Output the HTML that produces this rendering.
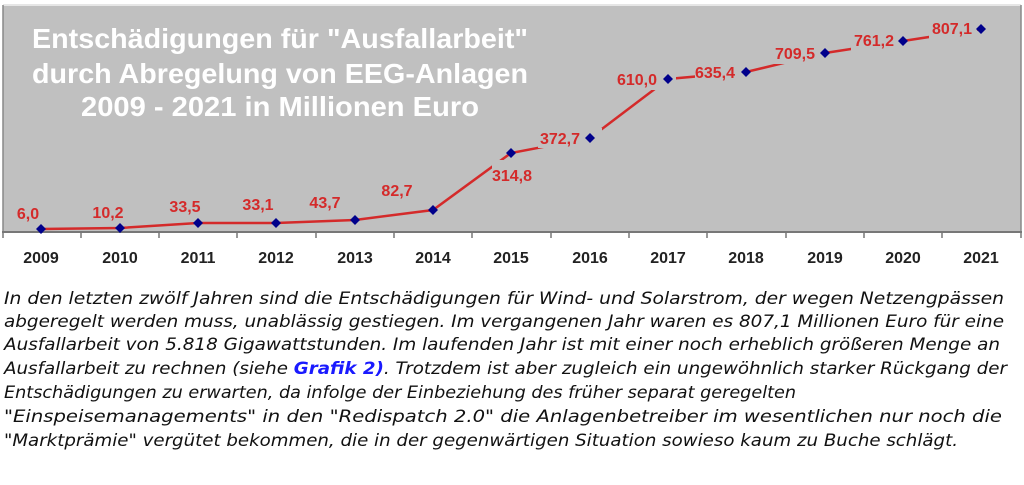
<!DOCTYPE html>
<html><head><meta charset="utf-8"><style>
html,body{margin:0;padding:0;background:#fff;}
svg{display:block;}
</style></head><body>
<svg width="1024" height="485" viewBox="0 0 1024 485" xmlns="http://www.w3.org/2000/svg">
<rect x="0" y="0" width="1024" height="485" fill="#fff"/>
<rect x="3" y="5" width="1018" height="227" fill="#c0c0c0"/>
<line x1="3" y1="5" x2="1021" y2="5" stroke="#e6e6e6" stroke-width="2"/>
<line x1="3" y1="5" x2="3" y2="232" stroke="#888" stroke-width="1.5"/>
<line x1="1021" y1="5" x2="1021" y2="232" stroke="#888" stroke-width="1.5"/>
<line x1="2" y1="232" x2="1022" y2="232" stroke="#777" stroke-width="2"/>
<g stroke="#777" stroke-width="1.5">
<line x1="3" y1="232" x2="3" y2="238"/><line x1="81" y1="232" x2="81" y2="238"/><line x1="159" y1="232" x2="159" y2="238"/><line x1="237" y1="232" x2="237" y2="238"/><line x1="316" y1="232" x2="316" y2="238"/><line x1="394" y1="232" x2="394" y2="238"/><line x1="472" y1="232" x2="472" y2="238"/><line x1="551" y1="232" x2="551" y2="238"/><line x1="629" y1="232" x2="629" y2="238"/><line x1="707" y1="232" x2="707" y2="238"/><line x1="786" y1="232" x2="786" y2="238"/><line x1="864" y1="232" x2="864" y2="238"/><line x1="942" y1="232" x2="942" y2="238"/><line x1="1021" y1="232" x2="1021" y2="238"/>
</g>
<g font-family="Liberation Sans, sans-serif" font-weight="bold" font-size="28" fill="#fff" text-anchor="middle">
<text x="280" y="48" textLength="496" lengthAdjust="spacingAndGlyphs">Entschädigungen für "Ausfallarbeit"</text>
<text x="280" y="83" textLength="496" lengthAdjust="spacingAndGlyphs">durch Abregelung von EEG-Anlagen</text>
<text x="280" y="116" textLength="398" lengthAdjust="spacingAndGlyphs">2009 - 2021 in Millionen Euro</text>
</g>
<polyline fill="none" stroke="#d42a2a" stroke-width="2.5" points="41,229 120,228 198,223 276,223 355,220 433,210 511,153 590,138 668,79 746,72 825,53 903,41 981,29"/>
<g fill="#c0c0c0">
<rect x="492" y="160" width="40" height="20"/>
<rect x="538" y="128" width="64" height="20"/>
<rect x="616" y="70" width="60" height="20"/>
<rect x="695" y="60" width="50" height="22"/>
<rect x="772" y="42" width="50" height="22"/>
<rect x="851" y="30" width="50" height="22"/>
<rect x="929" y="18" width="48" height="22"/>
</g>
<g fill="#00008b">
<path d="M41,224 l5,5 -5,5 -5,-5z"/><path d="M120,223 l5,5 -5,5 -5,-5z"/><path d="M198,218 l5,5 -5,5 -5,-5z"/><path d="M276,218 l5,5 -5,5 -5,-5z"/><path d="M355,215 l5,5 -5,5 -5,-5z"/><path d="M433,205 l5,5 -5,5 -5,-5z"/><path d="M511,148 l5,5 -5,5 -5,-5z"/><path d="M590,133 l5,5 -5,5 -5,-5z"/><path d="M668,74 l5,5 -5,5 -5,-5z"/><path d="M746,67 l5,5 -5,5 -5,-5z"/><path d="M825,48 l5,5 -5,5 -5,-5z"/><path d="M903,36 l5,5 -5,5 -5,-5z"/><path d="M981,24 l5,5 -5,5 -5,-5z"/>
</g>
<g font-family="Liberation Sans, sans-serif" font-weight="bold" font-size="16" fill="#d42a2a" text-anchor="middle">
<text x="28" y="219">6,0</text>
<text x="108" y="218">10,2</text>
<text x="185" y="212">33,5</text>
<text x="258" y="210">33,1</text>
<text x="325" y="208">43,7</text>
<text x="397" y="196">82,7</text>
<text x="512" y="181">314,8</text>
<text x="560" y="144">372,7</text>
<text x="637" y="85">610,0</text>
<text x="715" y="78">635,4</text>
<text x="795" y="59">709,5</text>
<text x="874" y="46">761,2</text>
<text x="952" y="34">807,1</text>
</g>
<g font-family="Liberation Sans, sans-serif" font-weight="bold" font-size="16" fill="#222" text-anchor="middle">
<text x="41" y="263">2009</text><text x="120" y="263">2010</text><text x="198" y="263">2011</text><text x="276" y="263">2012</text><text x="355" y="263">2013</text><text x="433" y="263">2014</text><text x="511" y="263">2015</text><text x="590" y="263">2016</text><text x="668" y="263">2017</text><text x="746" y="263">2018</text><text x="825" y="263">2019</text><text x="903" y="263">2020</text><text x="981" y="263">2021</text>
</g>
<g font-family="DejaVu Sans, sans-serif" font-style="italic" font-size="17" fill="#111">
<text x="4" y="304" textLength="1000" lengthAdjust="spacingAndGlyphs">In den letzten zwölf Jahren sind die Entschädigungen für Wind- und Solarstrom, der wegen Netzengpässen</text>
<text x="4" y="327" textLength="1000" lengthAdjust="spacingAndGlyphs">abgeregelt werden muss, unablässig gestiegen. Im vergangenen Jahr waren es 807,1 Millionen Euro für eine</text>
<text x="4" y="350" textLength="996" lengthAdjust="spacingAndGlyphs">Ausfallarbeit von 5.818 Gigawattstunden. Im laufenden Jahr ist mit einer noch erheblich größeren Menge an</text>
<text x="4" y="374" textLength="1003" lengthAdjust="spacingAndGlyphs">Ausfallarbeit zu rechnen (siehe <tspan fill="#1a1aff" font-weight="bold">Grafik 2)</tspan>. Trotzdem ist aber zugleich ein ungewöhnlich starker Rückgang der</text>
<text x="4" y="398" textLength="792" lengthAdjust="spacingAndGlyphs">Entschädigungen zu erwarten, da infolge der Einbeziehung des früher separat geregelten</text>
<text x="4" y="422" textLength="998" lengthAdjust="spacingAndGlyphs">"Einspeisemanagements" in den "Redispatch 2.0" die Anlagenbetreiber im wesentlichen nur noch die</text>
<text x="4" y="446" textLength="954" lengthAdjust="spacingAndGlyphs">"Marktprämie" vergütet bekommen, die in der gegenwärtigen Situation sowieso kaum zu Buche schlägt.</text>
</g>
</svg>
</body></html>
